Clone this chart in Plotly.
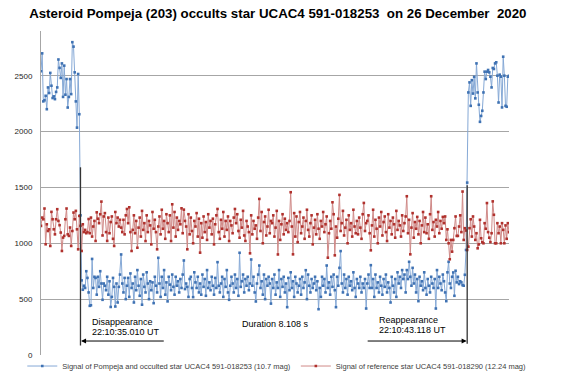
import plotly.graph_objects as go

# ---- data ----
title_text = "Asteroid Pompeja (203) occults star UCAC4 591-018253\u00a0 on 26 December\u00a0 2020"
name_target = "Signal of Pompeja and occulted star UCAC4 591-018253 (10.7 mag)"
name_reference = "Signal of reference star UCAC4 591-018290 (12.24 mag)"

y_tick_values = [0, 500, 1000, 1500, 2000, 2500]
y_tick_labels = ["0", "500", "1000", "1500", "2000", "2500"]

blue_before = [2540, 2700, 2270, 2280, 2320, 2200, 2395, 2345, 2525, 2410,
               2300, 2315, 2290, 2355, 2395, 2645, 2570, 2480, 2610, 2310,
               2590, 2330, 2470, 2215, 2310, 2470, 2335, 2800, 2760, 2530,
               2270, 2035, 2515, 2155, 1250]

blue_during = [
    668, 584, 620, 600, 750, 690, 560, 440, 445, 860, 600, 700, 690, 540, 700, 610, 750, 640, 494, 640,
    620, 580, 700, 540, 660, 430, 520, 690, 610, 434, 640, 470, 610, 720, 900, 640, 560, 690, 500, 620,
    690, 520, 730, 600, 640, 470, 700, 580, 760, 620, 530, 680, 450, 720, 610, 560, 740, 640, 500, 660,
    580, 650, 464, 700, 620, 560, 870, 640, 520, 700, 600, 760, 540, 650, 480, 700, 630, 580, 720, 610,
    540, 700, 620, 660, 560, 680, 600, 720, 846, 590, 640, 610, 520, 680, 700, 600, 518, 740, 650, 600,
    700, 560, 640, 540, 720, 610, 680, 530, 760, 600, 650, 580, 700, 620, 540, 690, 600, 831, 620, 560,
    640, 700, 520, 680, 610, 760, 560, 494, 620, 700, 640, 560, 720, 600, 680, 530, 915, 610, 660, 720,
    560, 680, 620, 700, 580, 640, 855, 620, 700, 560, 479, 640, 720, 801, 600, 660, 540, 720, 500, 680,
    620, 700, 640, 460, 680, 600, 720, 540, 650, 600, 760, 520, 680, 610, 700, 560, 640, 428, 690, 580,
    740, 600, 660, 520, 700, 640, 560, 620, 680, 540, 700, 600, 650, 759, 500, 720, 620, 560, 680, 600,
    640, 700, 580, 660, 410, 600, 520, 700, 620, 680, 560, 801, 600, 650, 540, 700, 610, 720, 580, 428,
    700, 620, 780, 930, 640, 560, 720, 600, 680, 540, 700, 620, 660, 580, 740, 600, 520, 680, 640, 600,
    700, 560, 640, 600, 680, 416, 640, 720, 600, 804, 600, 680, 520, 720, 600, 650, 560, 700, 620, 540,
    680, 610, 720, 560, 650, 600, 470, 700, 620, 560, 680, 520, 740, 640, 700, 600, 760, 680, 720, 560,
    760, 680, 834, 700, 620, 780, 640, 720, 560, 680, 482, 700, 620, 660, 580, 740, 600, 540, 680, 620,
    560, 700, 640, 600, 680, 416, 760, 600, 700, 640, 580, 720, 660, 560, 482, 740, 834, 640, 600, 700,
    739, 530, 754, 650, 700, 635, 660, 650, 625, 620, 718, 940]

blue_after = [1543, 2350, 2440, 2230, 2460, 2340, 2490, 2297, 2610, 2350,
              2240, 2087, 2140, 2186, 2350, 2536, 2470, 2536, 2551, 2530,
              2491, 2395, 2569, 2560, 2610, 2620, 2500, 2260, 2509, 2491,
              2216, 2670, 2500, 2230, 2222, 2491, 2500]

red_signal = [
    1156, 1230, 1215, 1311, 991, 1170, 1110, 1125, 976, 1281, 1215, 1125, 1080, 1215, 1305, 1200, 1162, 1096, 931, 1051,
    1066, 1215, 1311, 1080, 1066, 1141, 976, 1110, 1275, 1215, 1290, 1125, 946, 1245, 1156, 931, 1170, 1100, 1120, 1090,
    1100, 1217, 1090, 1230, 1060, 1150, 1200, 1021, 1277, 1220, 1180, 1260, 1373, 1070, 1240, 1270, 1100, 1021, 1230, 1090,
    1190, 1240, 1040, 976, 1280, 1180, 1230, 1150, 1210, 1140, 1100, 1210, 1080, 1250, 1307, 1180, 1322, 1100, 931, 1120,
    1250, 1090, 1200, 960, 1140, 1230, 1060, 1290, 1120, 1180, 1020, 1250, 1100, 1200, 1160, 990, 1280, 1130, 1210, 1100,
    946, 1150, 1240, 1080, 1300, 1130, 1200, 1040, 1260, 1180, 1100, 1250, 1020, 1349, 1140, 1280, 1060, 1230, 1120, 1200,
    1170, 1313, 1090, 1301, 1200, 1150, 946, 1260, 1080, 1230, 1110, 1000, 1200, 1150, 1270, 1060, 1220, 916, 1180, 1050,
    1240, 1100, 1190, 1030, 1260, 1140, 1200, 1080, 1220, 990, 1170, 1250, 1307, 1100, 1040, 1210, 1130, 1280, 1060, 1200,
    1120, 1240, 1020, 1200, 1160, 1090, 1230, 1307, 1180, 1260, 1110, 1050, 1210, 1140, 1290, 1070, 1021, 1200, 1150, 1100,
    910, 1250, 1080, 1200, 1130, 1160, 1040, 1230, 1397, 1110, 1280, 1000, 1190, 1240, 1070, 1150, 1300, 1090, 1200, 1180,
    1250, 1060, 1140, 1290, 900, 1200, 1030, 1170, 1260, 1080, 1220, 1120, 1180, 1100, 1200, 1457, 1150, 901, 1270, 1060,
    1240, 1010, 1190, 1280, 1090, 1150, 1230, 1040, 1200, 1300, 1120, 1060, 1180, 1250, 990, 1140, 1210, 1080, 1260, 1130,
    1040, 1200, 1150, 1280, 1100, 1170, 1240, 871, 1090, 1200, 1130, 1367, 1260, 892, 1150, 1050, 1220, 1433, 1110, 1180,
    1290, 1070, 1140, 1210, 1000, 1250, 1120, 1180, 1060, 1300, 1150, 1090, 1200, 1080, 1230, 1140, 1040, 1260, 1361, 1110,
    1180, 1200, 1250, 1090, 937, 1160, 1300, 1060, 1210, 1130, 1000, 1230, 1150, 1280, 1070, 1190, 1240, 1100, 1020, 1260,
    1140, 1200, 1080, 1230, 1170, 1050, 1290, 1120, 1200, 1160, 1060, 1250, 1110, 1180, 1240, 1421, 1090, 1210, 901, 1140,
    1270, 1050, 1190, 1130, 1236, 1080, 1200, 1000, 1160, 1280, 1100, 1230, 1090, 1170, 1040, 1260, 1421, 1120, 1190, 1060,
    1210, 1150, 1280, 1090, 1200, 1130, 1236, 1180, 1240, 1030, 1125, 1000, 857,
    1030, 925, 1030, 1135, 1240, 1066, 1066, 1150, 1250, 1100, 1463, 1030, 1135, 1114, 940, 970, 1135, 1215, 1060, 1240,
    1150, 1030, 1090, 955, 990, 1210, 1045, 1010, 1000, 1180, 1130, 1360, 1100, 1050, 1010, 1090, 1375, 1255, 1000, 1000,
    1180, 1090, 1150, 1000, 1180, 1120, 1000, 1160, 1040, 1180, 1100]

blue_signal = blue_before + blue_during + blue_after
blue_frames = list(range(len(blue_signal)))
red_frames = list(range(len(red_signal)))

disappear_frame = len(blue_before) - 1
reappear_frame = len(blue_before) + len(blue_during)
label_disappear = "Disappearance"
time_disappear = "22:10:35.010 UT"
label_reappear = "Reappearance"
time_reappear = "22:10:43.118 UT"
duration_text = "Duration 8.108 s"

# ---- figure ----
fig = go.Figure()
fig.add_trace(go.Scatter(
    x=blue_frames, y=blue_signal, mode="lines+markers", name=name_target,
    line=dict(color="#86A9D6", width=1),
    marker=dict(color="#3F72B3", size=2.6, symbol="square"),
))
fig.add_trace(go.Scatter(
    x=red_frames, y=red_signal, mode="lines+markers", name=name_reference,
    line=dict(color="#D08A88", width=1),
    marker=dict(color="#B0312D", size=2.6, symbol="square"),
))

n_frames = max(len(blue_signal), len(red_signal))

shapes = [
    dict(type="line", xref="x", yref="y", x0=disappear_frame, x1=disappear_frame,
         y0=85, y1=1680, line=dict(color="#333333", width=1.3)),
    dict(type="line", xref="x", yref="y", x0=reappear_frame, x1=reappear_frame,
         y0=100, y1=1520, line=dict(color="#333333", width=1.3)),
]

ann_font = dict(family="Liberation Sans, Arial, sans-serif", size=9, color="#000000")
annotations = [
    dict(x=disappear_frame + 8, y=296, xref="x", yref="y", text=label_disappear,
         showarrow=False, xanchor="left", yanchor="middle", font=ann_font),
    dict(x=disappear_frame + 8, y=206, xref="x", yref="y", text=time_disappear,
         showarrow=False, xanchor="left", yanchor="middle", font=ann_font),
    dict(x=202, y=278, xref="x", yref="y", text=duration_text,
         showarrow=False, xanchor="center", yanchor="middle", font=ann_font),
    dict(x=reappear_frame - 78, y=314, xref="x", yref="y", text=label_reappear,
         showarrow=False, xanchor="left", yanchor="middle", font=ann_font),
    dict(x=reappear_frame - 78, y=224, xref="x", yref="y", text=time_reappear,
         showarrow=False, xanchor="left", yanchor="middle", font=ann_font),
    dict(x=disappear_frame + 0.5, y=125, ax=disappear_frame + 73, ay=125,
         xref="x", yref="y", axref="x", ayref="y", text="", showarrow=True,
         arrowhead=2, arrowsize=1, arrowwidth=1, arrowcolor="#000000"),
    dict(x=reappear_frame - 0.5, y=125, ax=reappear_frame - 87, ay=125,
         xref="x", yref="y", axref="x", ayref="y", text="", showarrow=True,
         arrowhead=2, arrowsize=1, arrowwidth=1, arrowcolor="#000000"),
]

fig.update_layout(
    width=567, height=378, autosize=False,
    paper_bgcolor="white", plot_bgcolor="white",
    margin=dict(l=41, r=58, t=31, b=23, pad=0, autoexpand=False),
    title=dict(text=title_text, x=0.49, xanchor="center", y=0.965, yanchor="middle",
               font=dict(family="Liberation Sans, Arial, sans-serif", size=13.3, color="#000000",
                         weight="bold")),
    showlegend=True,
    legend=dict(orientation="h", x=-0.04, xanchor="left", y=-0.034, yanchor="middle",
                font=dict(family="Liberation Sans, Arial, sans-serif", size=7.5, color="#404040"),
                bgcolor="rgba(0,0,0,0)", itemwidth=30, tracegroupgap=0),
    xaxis=dict(range=[0, n_frames - 1], showgrid=False, zeroline=False, showline=False,
               showticklabels=False, ticks="", automargin=False),
    yaxis=dict(range=[0, 2900], tickvals=y_tick_values, ticktext=y_tick_labels,
               showgrid=True, gridcolor="#A6A6A6", gridwidth=1, zeroline=False,
               showline=True, linecolor="#A6A6A6", linewidth=1, ticks="",
               ticklabelstandoff=6, automargin=False,
               tickfont=dict(family="Liberation Sans, Arial, sans-serif", size=8, color="#262626")),
    shapes=shapes,
    annotations=annotations,
)

fig.write_html("out.html", config={"displayModeBar": False},
               post_script="document.body.style.margin='0';document.body.style.overflow='hidden';")
